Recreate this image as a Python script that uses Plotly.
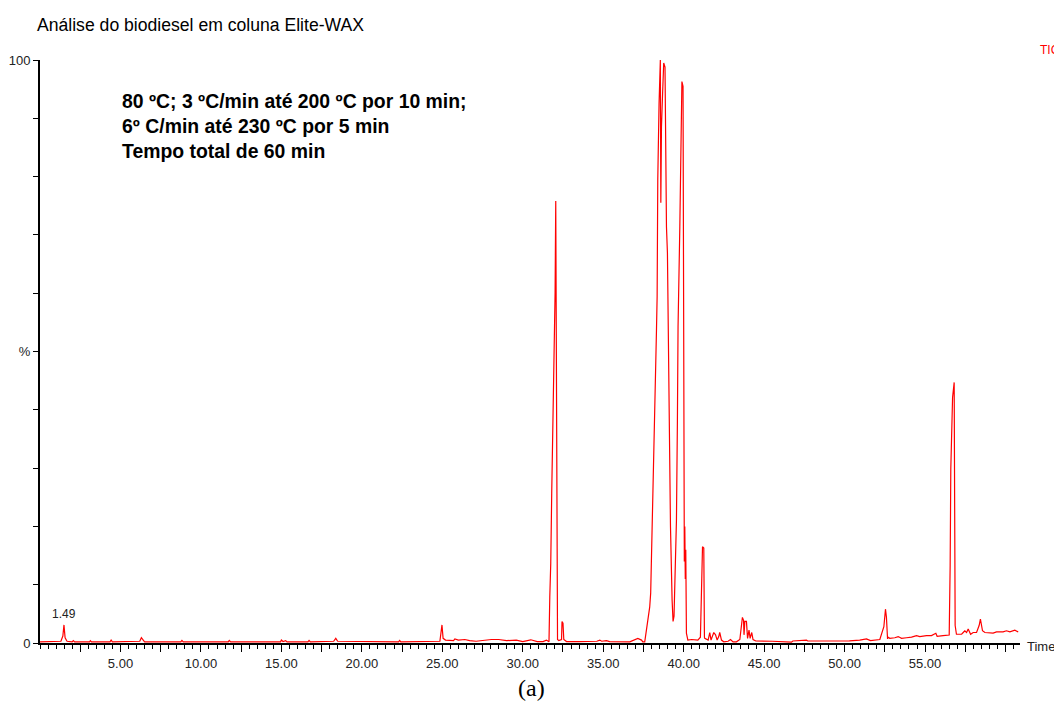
import plotly.graph_objects as go

# ---- data (retention time in min, relative TIC %) ----
time_min = [
    0.00, 0.80, 1.30, 1.42, 1.49, 1.56, 1.68, 2.00, 2.07, 2.15, 3.08, 3.13, 3.20,
    4.35, 4.42, 4.50, 6.20, 6.30, 6.38, 6.50, 8.75, 8.82, 8.90, 11.70, 11.76, 11.85,
    14.95, 15.00, 15.10, 15.27, 15.35, 16.65, 16.72, 16.80, 18.25, 18.38, 18.50,
    22.28, 22.35, 22.42, 24.85, 24.92, 24.98, 25.05, 25.20, 25.70, 25.78, 26.00,
    26.40, 26.70, 27.10, 28.05, 28.50, 29.00, 29.60, 30.00, 30.25, 30.50, 30.90,
    31.26, 31.47, 31.58, 31.63, 31.68, 31.74, 31.80, 31.86, 31.95, 32.01, 32.05,
    32.08, 32.11, 32.16, 32.24, 32.41, 32.44, 32.50, 32.55, 32.72, 33.50, 34.60,
    34.79, 34.90, 35.20, 35.40, 36.65, 36.96, 37.15, 37.38, 37.46, 37.58, 37.69,
    37.79, 37.89, 37.95, 38.00, 38.06, 38.14, 38.20, 38.31, 38.35, 38.39, 38.47,
    38.55, 38.58, 38.62, 38.69, 38.76, 38.84, 38.87, 38.93, 38.99, 39.05, 39.14,
    39.18, 39.28, 39.34, 39.40, 39.55, 39.61, 39.65, 39.76, 39.82, 39.89, 39.96,
    39.99, 40.04, 40.07, 40.10, 40.13, 40.17, 40.26, 40.50, 40.88, 41.04, 41.17,
    41.25, 41.29, 41.31, 41.52, 41.62, 41.70, 41.79, 41.87, 41.98, 42.08, 42.18,
    42.24, 42.35, 42.49, 42.76, 42.91, 43.07, 43.28, 43.49, 43.59, 43.65, 43.72,
    43.75, 43.80, 43.90, 43.97, 44.06, 44.13, 44.23, 44.31, 44.48, 45.50, 46.70,
    46.78, 47.63, 47.71, 49.00, 50.30, 50.94, 51.36, 51.61, 52.19, 52.44, 52.54,
    52.60, 52.67, 52.70, 52.81, 53.12, 53.33, 53.54, 53.85, 54.16, 54.47, 54.67,
    55.09, 55.40, 55.67, 55.75, 56.12, 56.33, 56.50, 56.56, 56.60, 56.71, 56.77,
    56.81, 56.83, 56.87, 56.95, 57.27, 57.37, 57.47, 57.58, 57.68, 57.83, 57.99,
    58.20, 58.36, 58.44, 58.51, 58.57, 58.72, 59.23, 59.44, 59.85, 60.06, 60.27,
    60.58, 60.79,
]
tic_pct = [
    0.2, 0.2, 0.3, 1.2, 3.1, 0.9, 0.3, 0.2, 0.4, 0.2, 0.2, 0.4, 0.2,
    0.2, 0.5, 0.2, 0.3, 0.9, 0.6, 0.2, 0.2, 0.45, 0.2, 0.2, 0.45, 0.2,
    0.2, 0.5, 0.25, 0.4, 0.2, 0.2, 0.45, 0.2, 0.3, 0.8, 0.3,
    0.2, 0.45, 0.2, 0.3, 2.0, 3.1, 0.8, 0.5, 0.4, 0.7, 0.5,
    0.6, 0.4, 0.3, 0.6, 0.6, 0.4, 0.5, 0.25, 0.4, 0.55, 0.25,
    0.25, 0.5, 0.25, 0.22, 7.9, 13.7, 25.7, 34.0, 50.1, 60.2, 75.8,
    54.8, 54.8, 0.6, 0.4, 0.6, 3.7, 3.4, 0.6, 0.25, 0.25, 0.3,
    0.5, 0.3, 0.4, 0.25, 0.2, 0.6, 0.8, 0.5, 0.2, 0.2, 2.2,
    4.5, 6.2, 8.6, 14.2, 21.7, 32.6, 38.3, 53.7, 59.4, 79.4, 92.6,
    100.0, 75.5, 88.5, 94.3, 99.5, 98.8, 87.1, 71.4, 66.9, 52.0, 38.3,
    20.0, 7.4, 3.7, 4.6, 21.0, 38.0, 54.2, 71.4, 82.8, 96.3, 95.5,
    22.0, 14.0, 20.0, 11.0, 16.0, 1.7, 0.5, 0.6, 0.5, 1.0, 16.5,
    16.3, 1.0, 0.8, 0.5, 1.8, 0.5, 1.1, 1.8, 1.4, 0.5, 1.1,
    1.8, 0.5, 0.2, 0.3, 0.6, 0.2, 0.2, 0.6, 2.5, 4.4, 3.9,
    1.4, 3.7, 3.7, 0.8, 2.2, 0.8, 1.8, 0.6, 0.34, 0.3, 0.15,
    0.34, 0.5, 0.34, 0.3, 0.35, 0.5, 0.7, 0.4, 0.6, 2.8, 5.8,
    4.4, 0.7, 1.0, 0.8, 0.9, 1.1, 0.8, 0.9, 1.0, 1.26, 1.1,
    1.26, 1.26, 1.66, 1.14, 1.26, 1.26, 1.37, 13.3, 29.8, 42.1, 44.7,
    44.7, 29.8, 3.0, 1.5, 1.5, 1.8, 2.1, 1.8, 2.4, 1.5, 1.8,
    1.8, 3.0, 4.1, 3.3, 2.1, 1.8, 1.7, 1.9, 1.9, 2.1, 1.9,
    2.2, 1.9,
]

x_major_ticks = [2.5 * i for i in range(1, 25)]
x_labelled = [5, 10, 15, 20, 25, 30, 35, 40, 45, 50, 55]
x_tick_labels = [("%.2f" % v) if v in x_labelled else "" for v in x_major_ticks]
y_ticks = [0, 10, 20, 30, 40, 50, 60, 70, 80, 90, 100]
y_tick_labels = ["0", "", "", "", "", "%", "", "", "", "", "100"]

title_text = "Análise do biodiesel em coluna Elite-WAX"
method_lines = [
    "80 ºC; 3 ºC/min até 200 ºC por 10 min;",
    "6º C/min até 230 ºC por 5 min",
    "Tempo total de 60 min",
]
peak_label = ("1.49", 1.49, 3.1)

# ---- layout geometry (page pixels; the page body adds an 8 px offset) ----
OFF = 8
W, H = 1062 - OFF, 718 - OFF
L, R, T, B = 40 - OFF, 1020 - OFF, 60 - OFF, 643 - OFF

def px(xp):
    return (xp - OFF - L) / (R - L)

def py(yp):
    return (B - (yp - OFF)) / (B - T)

SANS = "Liberation Sans, Arial, sans-serif"

fig = go.Figure()
fig.add_trace(go.Scatter(
    x=time_min, y=tic_pct, mode="lines",
    line=dict(color="#ff0000", width=1.2),
    hoverinfo="skip", showlegend=False,
))

annotations = [
    dict(text=title_text, x=px(35), y=py(25), xanchor="left", yanchor="middle",
         font=dict(family=SANS, size=17.6, color="#000000")),
    dict(text="TIC", x=px(1038), y=py(50), xanchor="left", yanchor="middle",
         font=dict(family=SANS, size=12, color="#ff0000")),
    dict(text="Time", x=px(1025), y=py(646), xanchor="left", yanchor="middle",
         font=dict(family=SANS, size=13, color="#222222")),
    dict(text="(a)", x=px(531), y=py(688), xanchor="center", yanchor="middle",
         font=dict(family="Liberation Serif, Times New Roman, serif", size=24, color="#000000")),
]
for i, line in enumerate(method_lines):
    annotations.append(dict(
        text="<b>%s</b>" % line, x=px(120), y=py(101 + 25 * i),
        xanchor="left", yanchor="middle",
        font=dict(family=SANS, size=19.4, color="#000000"),
    ))
annotations.append(dict(
    text=peak_label[0], x=peak_label[1], y=peak_label[2], xref="x", yref="y",
    xanchor="center", yanchor="bottom", yshift=2,
    font=dict(family=SANS, size=12, color="#222222"),
))
for a in annotations:
    a.setdefault("xref", "paper")
    a.setdefault("yref", "paper")
    a["showarrow"] = False

fig.update_layout(
    width=W, height=H,
    margin=dict(l=L, r=W - R, t=T, b=H - B, pad=0, autoexpand=False),
    paper_bgcolor="white", plot_bgcolor="white",
    annotations=annotations,
    xaxis=dict(
        range=[0, 60.9], showgrid=False, zeroline=False, automargin=False,
        showline=True, linecolor="black", linewidth=2,
        tickmode="array", tickvals=x_major_ticks, ticktext=x_tick_labels,
        ticks="outside", ticklen=7, tickwidth=1, tickcolor="black",
        tickfont=dict(family=SANS, size=13, color="#222222"),
        minor=dict(dtick=0.5, tick0=0, ticks="outside", ticklen=4, tickwidth=1,
                   tickcolor="black", showgrid=False),
        fixedrange=True,
    ),
    yaxis=dict(
        range=[0, 100], showgrid=False, zeroline=False, automargin=False,
        showline=True, linecolor="black", linewidth=2,
        tickmode="array", tickvals=y_ticks, ticktext=y_tick_labels,
        ticks="outside", ticklen=5, tickwidth=1, tickcolor="black",
        tickfont=dict(family=SANS, size=13, color="#222222"),
        fixedrange=True,
    ),
)

fig.write_html("out.html", config={"displayModeBar": False})
